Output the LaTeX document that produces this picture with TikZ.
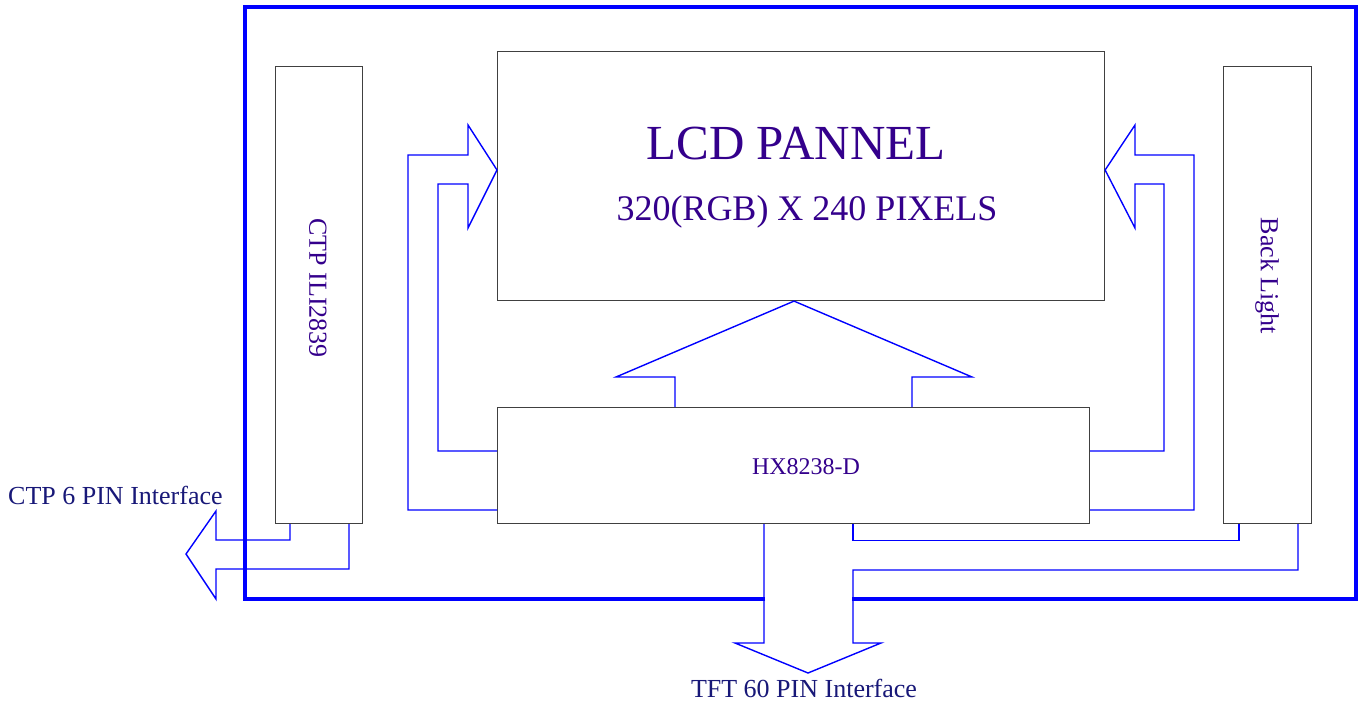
\documentclass[tikz,border=0pt]{standalone}
\usepackage{fontspec}
\setmainfont{Liberation Serif}
\definecolor{lcdtxt}{RGB}{52,0,140}
\definecolor{lbltxt}{RGB}{24,24,120}
\definecolor{conn}{RGB}{0,0,255}
\begin{document}
\begin{tikzpicture}[x=1pt,y=-1pt,
  blk/.style={draw=black!75,line width=1.1pt,fill=white,inner sep=0pt,anchor=north west},
  wire/.style={draw=conn,line width=1.4pt,line join=miter},
  frame/.style={draw=conn,line width=4pt,line join=miter},
  lbl/.style={text=lbltxt,inner sep=0pt,font=\fontsize{26}{28}\selectfont}]
\useasboundingbox (0,0) rectangle (1365,706);
\fill[white] (0,0) rectangle (1365,706);
% boxes
\node[blk,minimum width=607pt,minimum height=249pt] (lcd) at (497,51) {};
\node[blk,minimum width=592pt,minimum height=116pt] (hx) at (497,407) {};
\node[blk,minimum width=87pt,minimum height=457pt] (ctp) at (275,66) {};
\node[blk,minimum width=88pt,minimum height=457pt] (bl) at (1223,66) {};
% texts
\node[text=lcdtxt,inner sep=0pt,font=\fontsize{49}{52}\selectfont] (t1) at (796,144) {LCD PANNEL};
\node[text=lcdtxt,inner sep=0pt,font=\fontsize{36}{40}\selectfont] (t2) at (807,212) {320(RGB) X 240 PIXELS};
\node[text=lcdtxt,inner sep=0pt,font=\fontsize{24}{26}\selectfont] (t3) at (806,467) {HX8238-D};
\node[lbl,rotate=-90,text=lcdtxt] (t4) at (318,288) {CTP ILI2839};
\node[lbl,rotate=-90,text=lcdtxt] (t5) at (1267,276) {Back Light};
\node[lbl,anchor=west] (t6) at (8,495) {CTP 6 PIN Interface};
\node[lbl] (t7) at (804,688) {TFT 60 PIN Interface};
% left block arrow HX -> LCD
\draw[wire] (hx.west |- 0,451) -- (438,451) -- (438,184) -- (468,184) -- (468,228)
  -- (lcd.west |- 0,170) -- (468,125) -- (468,155) -- (408,155) -- (408,510) -- (hx.west |- 0,510);
% right block arrow HX -> LCD
\draw[wire] (hx.east |- 0,451) -- (1164,451) -- (1164,184) -- (1135,184) -- (1135,228)
  -- (lcd.east |- 0,170) -- (1135,125) -- (1135,155) -- (1194,155) -- (1194,510) -- (hx.east |- 0,510);
% top block arrow HX -> LCD
\draw[wire] (hx.north -| 675,0) -- (675,377) -- (616,377) -- (lcd.south -| 794,0)
  -- (972,377) -- (912,377) -- (hx.north -| 912,0);
% CTP block arrow
\draw[wire] (ctp.south -| 290,0) -- (290,540) -- (216,540) -- (216,511) -- (186,554)
  -- (216,599) -- (216,569) -- (349,569) -- (ctp.south -| 349,0);
% TFT block arrow
\draw[wire] (hx.south -| 764,0) -- (764,643) -- (735,643) -- (808,673) -- (881,643)
  -- (853,643) -- (853,570) -- (1298,570) -- (bl.south -| 1298,0);
\draw[wire] (hx.south -| 853,0) -- (853,540.5) -- (1239,540.5) -- (bl.south -| 1239,0);
% outer frame
\draw[frame] (765,599) -- (245,599) -- (245,7) -- (1356,7) -- (1356,599) -- (852,599);
\end{tikzpicture}
\end{document}
